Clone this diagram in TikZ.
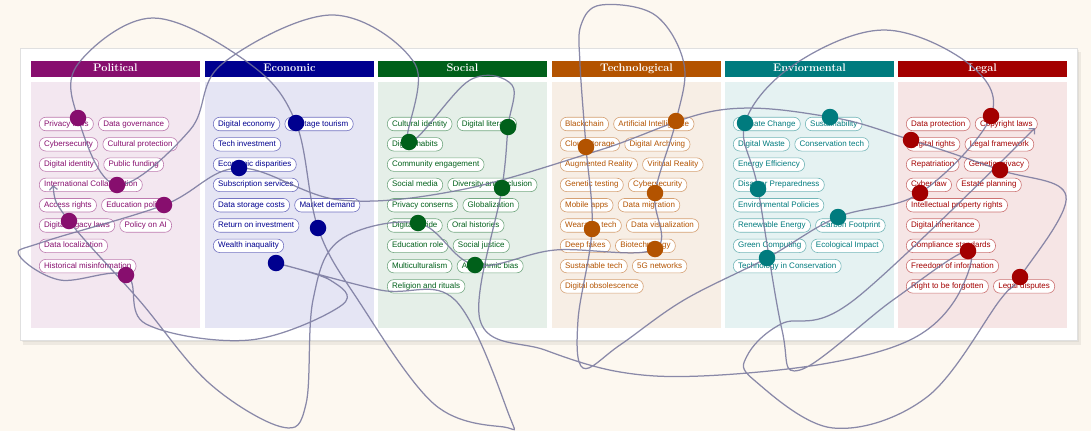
\documentclass[tikz,border=0pt]{standalone}
\usepackage{fontspec}
\setsansfont{Liberation Sans}
\usepackage{tikz}
\usetikzlibrary{positioning, arrows.meta}
\usepackage{xcolor}

\definecolor{bgc}{HTML}{FDF8F0}
\definecolor{polc}{HTML}{870E6E}
\definecolor{ecoc}{HTML}{00008F}
\definecolor{socc}{HTML}{00601A}
\definecolor{tecc}{HTML}{B35300}
\definecolor{envc}{HTML}{007B7E}
\definecolor{legc}{HTML}{A30000}
\definecolor{threadc}{HTML}{76769C}

\pgfdeclarelayer{front}
\pgfsetlayers{main,front}

\begin{document}
\begin{tikzpicture}[
    x=1pt, y=-1pt,
    header/.style={fill=#1, minimum width=168.5pt, minimum height=16pt, inner sep=0pt,
        text=white, text height=7.5pt, text depth=2pt,
        font=\rmfamily\bfseries\fontsize{11}{13}\selectfont, anchor=north west},
    panel/.style={fill=#1, minimum width=168.5pt, minimum height=246pt, inner sep=0pt, anchor=north west},
    tag/.style={draw=#1!55, fill=white, text=#1, rounded corners=6.5pt, minimum height=13.5pt,
        inner xsep=4.8pt, inner ysep=0pt, text height=5.8pt, text depth=1.7pt, line width=0.6pt,
        font=\sffamily\fontsize{8}{9.5}\selectfont, anchor=west},
    dot/.style={circle, fill=#1, minimum size=16.5pt, inner sep=0pt},
    thread/.style={draw=threadc, line width=1.25pt, opacity=0.85}
]

    % Page and card
    \fill[bgc] (0,0) rectangle (1091,431);
    \useasboundingbox (0,0) rectangle (1091,431);
    \fill[black, opacity=0.06] (23,52) rectangle (1081,345);
    \fill[black, opacity=0.05] (22,50) rectangle (1079,342);
    \draw[fill=white, draw=black!12, line width=0.6pt] (20,48) rectangle (1077,340);

    % Column headers
    \node[header=polc] (hpol) at (31,61) {Political};
    \node[header=ecoc] (heco) at (205,61) {Economic};
    \node[header=socc] (hsoc) at (378,61) {Social};
    \node[header=tecc] (htec) at (552,61) {Technological};
    \node[header=envc] (henv) at (725,61) {Enviormental};
    \node[header=legc] (hleg) at (898,61) {Legal};

    % Column panels
    \node[panel=polc!10] (bpol) at (31,82) {};
    \node[panel=ecoc!10] (beco) at (205,82) {};
    \node[panel=socc!10] (bsoc) at (378,82) {};
    \node[panel=tecc!10] (btec) at (552,82) {};
    \node[panel=envc!10] (benv) at (725,82) {};
    \node[panel=legc!10] (bleg) at (898,82) {};

    % Political
    \node[tag=polc] (pol1) at (39,124) {Privacy laws};
    \node[tag=polc, right=4.5pt of pol1] (pol2) {Data governance};
    \node[tag=polc] (pol3) at (39,144.3) {Cybersecurity};
    \node[tag=polc, right=4.5pt of pol3] (pol4) {Cultural protection};
    \node[tag=polc] (pol5) at (39,164.6) {Digital identity};
    \node[tag=polc, right=4.5pt of pol5] (pol6) {Public funding};
    \node[tag=polc] (pol7) at (39,184.9) {International Collaboration};
    \node[tag=polc] (pol8) at (39,205.2) {Access rights};
    \node[tag=polc, right=4.5pt of pol8] (pol9) {Education policy};
    \node[tag=polc] (pol10) at (39,225.5) {Digital legacy laws};
    \node[tag=polc, right=4.5pt of pol10] (pol11) {Policy on AI};
    \node[tag=polc] (pol12) at (39,245.8) {Data localization};
    \node[tag=polc] (pol13) at (39,266.1) {Historical misinformation};

    % Economic
    \node[tag=ecoc] (eco1) at (213,124) {Digital economy};
    \node[tag=ecoc, right=4.5pt of eco1] (eco2) {Heritage tourism};
    \node[tag=ecoc] (eco3) at (213,144.3) {Tech investment};
    \node[tag=ecoc] (eco4) at (213,164.6) {Economic disparities};
    \node[tag=ecoc] (eco5) at (213,184.9) {Subscription services};
    \node[tag=ecoc] (eco6) at (213,205.2) {Data storage costs};
    \node[tag=ecoc, right=4.5pt of eco6] (eco7) {Market demand};
    \node[tag=ecoc] (eco8) at (213,225.5) {Return on investment};
    \node[tag=ecoc] (eco9) at (213,245.8) {Wealth inaquality};

    % Social
    \node[tag=socc] (soc1) at (387,124) {Cultural identity};
    \node[tag=socc, right=4.5pt of soc1] (soc2) {Digital literacy};
    \node[tag=socc] (soc3) at (387,144.3) {Digital habits};
    \node[tag=socc] (soc4) at (387,164.6) {Community engagement};
    \node[tag=socc] (soc5) at (387,184.9) {Social media};
    \node[tag=socc, right=4.5pt of soc5] (soc6) {Diversity and inclusion};
    \node[tag=socc] (soc7) at (387,205.2) {Privacy conserns};
    \node[tag=socc, right=4.5pt of soc7] (soc8) {Globalization};
    \node[tag=socc] (soc9) at (387,225.5) {Digital divide};
    \node[tag=socc, right=4.5pt of soc9] (soc10) {Oral histories};
    \node[tag=socc] (soc11) at (387,245.8) {Education role};
    \node[tag=socc, right=4.5pt of soc11] (soc12) {Social justice};
    \node[tag=socc] (soc13) at (387,266.1) {Multiculturalism};
    \node[tag=socc, right=4.5pt of soc13] (soc14) {Algorithmic bias};
    \node[tag=socc] (soc15) at (387,286.4) {Religion and rituals};

    % Technological
    \node[tag=tecc] (tec1) at (560,124) {Blackchain};
    \node[tag=tecc, right=4.5pt of tec1] (tec2) {Artificial Intelligence};
    \node[tag=tecc] (tec3) at (560,144.3) {Cloud storage};
    \node[tag=tecc, right=4.5pt of tec3] (tec4) {Digital Archving};
    \node[tag=tecc] (tec5) at (560,164.6) {Augmented Reality};
    \node[tag=tecc, right=4.5pt of tec5] (tec6) {Viritual Reality};
    \node[tag=tecc] (tec7) at (560,184.9) {Genetic testing};
    \node[tag=tecc, right=4.5pt of tec7] (tec8) {Cybersecurity};
    \node[tag=tecc] (tec9) at (560,205.2) {Mobile apps};
    \node[tag=tecc, right=4.5pt of tec9] (tec10) {Data migration};
    \node[tag=tecc] (tec11) at (560,225.5) {Wearable tech};
    \node[tag=tecc, right=4.5pt of tec11] (tec12) {Data visualization};
    \node[tag=tecc] (tec13) at (560,245.8) {Deep fakes};
    \node[tag=tecc, right=4.5pt of tec13] (tec14) {Biotechnology};
    \node[tag=tecc] (tec15) at (560,266.1) {Sustanable tech};
    \node[tag=tecc, right=4.5pt of tec15] (tec16) {5G networks};
    \node[tag=tecc] (tec17) at (560,286.4) {Digital obsolescence};

    % Enviormental
    \node[tag=envc] (env1) at (733,124) {Climate Change};
    \node[tag=envc, right=4.5pt of env1] (env2) {Sustainability};
    \node[tag=envc] (env3) at (733,144.3) {Digital Waste};
    \node[tag=envc, right=4.5pt of env3] (env4) {Conservation tech};
    \node[tag=envc] (env5) at (733,164.6) {Energy Efficiency};
    \node[tag=envc] (env6) at (733,184.9) {Disaster Preparedness};
    \node[tag=envc] (env7) at (733,205.2) {Environmental Policies};
    \node[tag=envc] (env8) at (733,225.5) {Renewable Energy};
    \node[tag=envc, right=4.5pt of env8] (env9) {Carbon Footprint};
    \node[tag=envc] (env10) at (733,245.8) {Green Computing};
    \node[tag=envc, right=4.5pt of env10] (env11) {Ecological Impact};
    \node[tag=envc] (env12) at (733,266.1) {Technology in Conservation};

    % Legal
    \node[tag=legc] (leg1) at (906,124) {Data protection};
    \node[tag=legc, right=4.5pt of leg1] (leg2) {Copyright laws};
    \node[tag=legc] (leg3) at (906,144.3) {Digital rights};
    \node[tag=legc, right=4.5pt of leg3] (leg4) {Legal framework};
    \node[tag=legc] (leg5) at (906,164.6) {Repatriation};
    \node[tag=legc, right=4.5pt of leg5] (leg6) {Genetic privacy};
    \node[tag=legc] (leg7) at (906,184.9) {Cyber law};
    \node[tag=legc, right=4.5pt of leg7] (leg8) {Estate planning};
    \node[tag=legc] (leg9) at (906,205.2) {Intellectual property rights};
    \node[tag=legc] (leg10) at (906,225.5) {Digital inheritance};
    \node[tag=legc] (leg11) at (906,245.8) {Compliance standards};
    \node[tag=legc] (leg12) at (906,266.1) {Freedom of information};
    \node[tag=legc] (leg13) at (906,286.4) {Right to be forgotten};
    \node[tag=legc, right=4.5pt of leg13] (leg14) {Legal disputes};

    % Marker dots (front layer)
    \begin{pgfonlayer}{front}
    \node[dot=polc] (polA) at (78,118) {};
    \node[dot=polc] (polB) at (117,185) {};
    \node[dot=polc] (polC) at (164,205) {};
    \node[dot=polc] (polD) at (69,221) {};
    \node[dot=polc] (polE) at (126,275) {};
    \node[dot=ecoc] (ecoA) at (296,123) {};
    \node[dot=ecoc] (ecoB) at (239,168) {};
    \node[dot=ecoc] (ecoC) at (318,228) {};
    \node[dot=ecoc] (ecoD) at (276,263) {};
    \node[dot=socc] (socA) at (508,127) {};
    \node[dot=socc] (socB) at (409,142) {};
    \node[dot=socc] (socC) at (502,188) {};
    \node[dot=socc] (socD) at (418,223) {};
    \node[dot=socc] (socE) at (475,265) {};
    \node[dot=tecc] (tecA) at (676,121) {};
    \node[dot=tecc] (tecB) at (586,147) {};
    \node[dot=tecc] (tecC) at (655,193) {};
    \node[dot=tecc] (tecD) at (592,229) {};
    \node[dot=tecc] (tecE) at (655,249) {};
    \node[dot=envc] (envA) at (745,123) {};
    \node[dot=envc] (envB) at (830,117) {};
    \node[dot=envc] (envC) at (758,189) {};
    \node[dot=envc] (envD) at (838,217) {};
    \node[dot=envc] (envE) at (767,258) {};
    \node[dot=legc] (legA) at (991,116) {};
    \node[dot=legc] (legB) at (911,140) {};
    \node[dot=legc] (legC) at (1000,170) {};
    \node[dot=legc] (legD) at (920,193) {};
    \node[dot=legc] (legE) at (968,251) {};
    \node[dot=legc] (legF) at (1020,277) {};
    \end{pgfonlayer}

    % The thread through all dots
    \coordinate (tstart) at (53,185);
    \coordinate (tend) at (1035,128);
    \draw[thread, {Straight Barb[length=4pt]}-{Straight Barb[length=4pt]}] plot[smooth, tension=0.6] coordinates {
        (tstart) (polD.center) (139,300) (209,383) (282,427) (306,404) (313,300) (340,240)
        (socD.center) (socE.center) (555,250) (tecE.center) (tecC.center) (tecA.center)
        (684,64) (655,15) (601,5) (581,25) (580,64) (tecB.center) (tecD.center)
        (578,320) (583,368) (620,345) (684,300) (envE.center) (envD.center)
        (legD.center) (legA.center) (969,64) (884,30) (795,64) (envA.center) (envC.center)
        (782,330) (800,370) (893,300) (legE.center) (955,300) (910,340) (823,364)
        (701,376) (620,372) (545,350) (480,320) (socC.center) (socA.center) (512,85)
        (470,80) (socB.center) (415,64) (332,15) (222,64) (190,130) (polB.center)
        (polA.center) (78,64) (153,18) (250,64) (ecoA.center) (ecoC.center) (358,300)
        (434,404) (504,427) (509,415) (455,300) (380,290) (ecoD.center) (330,280)
        (342,305) (250,340) (146,324) (polE.center)
        (60,280) (19,255) (43,242) (polC.center) (ecoB.center) (340,200) (460,190)
        (600,150) (720,110) (envB.center) (legB.center) (legC.center) (1066,196)
        (legF.center) (1000,300) (927,397) (833,428) (754,380) (747,356) (781,324)
        (854,300) (tend)
    };

\end{tikzpicture}
\end{document}
